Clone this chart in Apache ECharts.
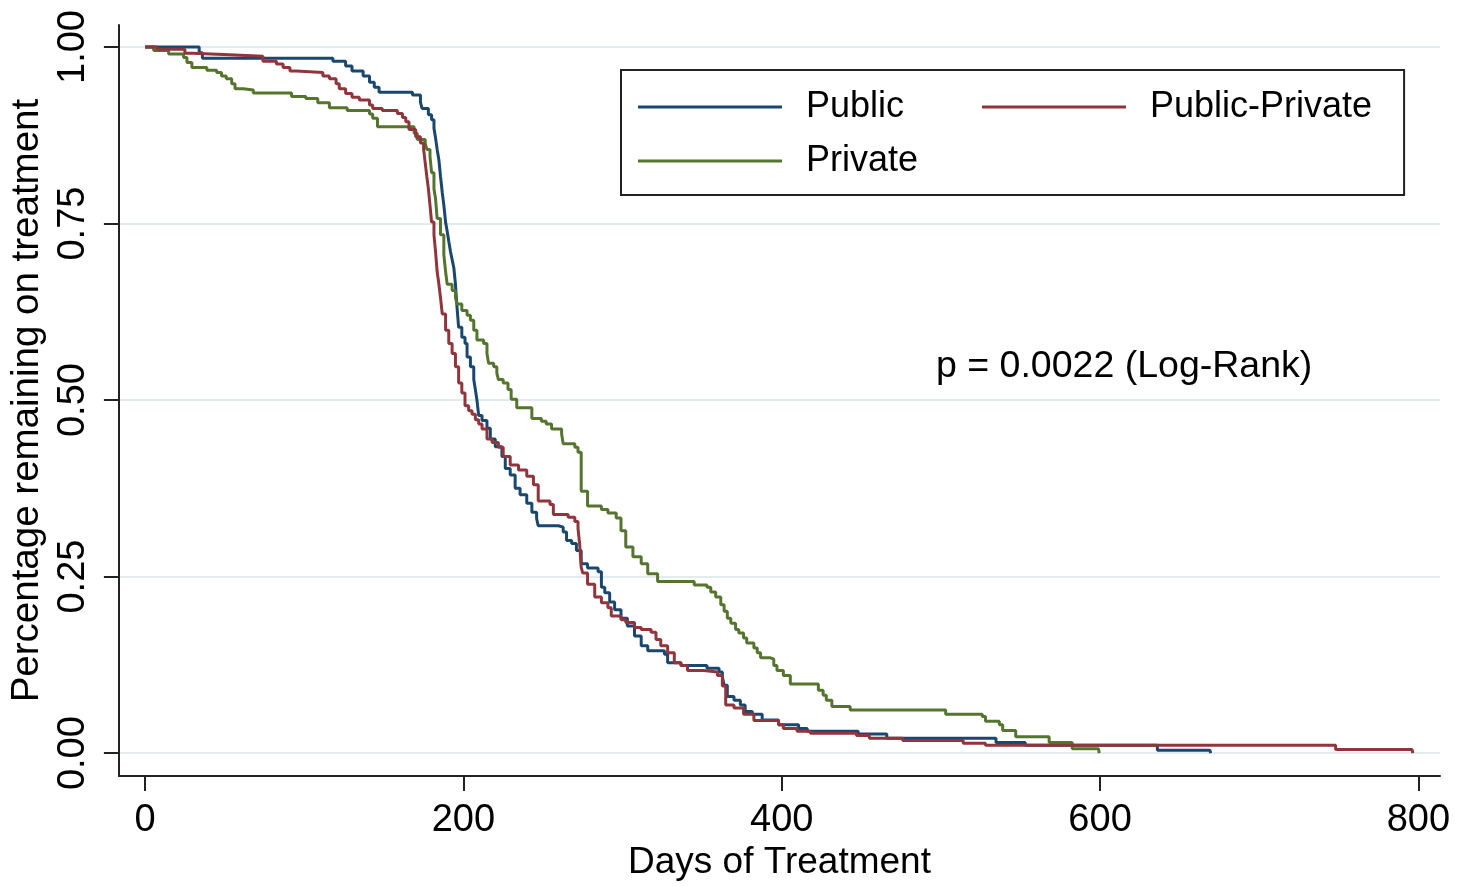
<!DOCTYPE html>
<html>
<head>
<meta charset="utf-8">
<script src="https://cdn.jsdelivr.net/npm/echarts@6/dist/echarts.min.js"></script>
<style>
html,body{margin:0;padding:0;background:#fff;width:100%;height:100%;overflow:hidden;}
#chart{width:100vw;height:100vh;}
</style>
</head>
<body>
<div id="chart"></div>
<script>
// ---- data (days of treatment, survival proportion), Kaplan-Meier step points ----
const seriesNames = ['Public', 'Public-Private', 'Private'];
const xTicks = [0, 200, 400, 600, 800];
const yTicks = [0, 0.25, 0.5, 0.75, 1];
const pText = 'p = 0.0022 (Log-Rank)';

const publicData = [[0,1.0],[34,0.992],[36,0.984],[118,0.980],[126,0.973],[130,0.966],[137,0.959],[141,0.950],[144,0.943],[147,0.936],[168,0.932],[173,0.922],[174,0.913],[178,0.904],[180,0.897],[181.5,0.885],[182.5,0.871],[183.5,0.855],[184.6,0.840],[185.6,0.817],[186.7,0.794],[187.7,0.776],[188.8,0.752],[189.8,0.739],[190.8,0.725],[191.9,0.710],[193,0.698],[194,0.687],[195,0.664],[196,0.631],[197,0.603],[199,0.589],[201,0.580],[202.3,0.561],[204.4,0.547],[206.5,0.529],[207.5,0.515],[208.5,0.500],[209.6,0.478],[211.7,0.471],[214.8,0.460],[216.9,0.445],[220,0.434],[224.2,0.420],[226.3,0.403],[229.4,0.394],[232.5,0.375],[235.6,0.366],[239.8,0.354],[243,0.341],[246,0.332],[247,0.322],[259.6,0.320],[262.7,0.313],[264.8,0.301],[268,0.297],[271,0.287],[274,0.268],[278,0.262],[284.6,0.257],[286.7,0.235],[288.8,0.227],[291.9,0.214],[295,0.203],[299,0.191],[303,0.180],[307.5,0.166],[311.7,0.152],[315.8,0.145],[326.3,0.140],[328.3,0.128],[336.7,0.124],[353,0.120],[360.6,0.115],[362.7,0.108],[363.8,0.096],[365.8,0.080],[370,0.075],[374,0.068],[377,0.059],[381.5,0.055],[387.7,0.047],[398,0.040],[410.6,0.035],[416,0.031],[448,0.027],[466,0.021],[534.6,0.015],[553,0.011],[636,0.004],[669,0.004],[669.5,0]];

const publicPrivateData = [[0,1.0],[7.5,0.997],[25,0.991],[30,0.989],[53,0.987],[74,0.980],[82.5,0.976],[86.7,0.971],[91,0.966],[95,0.964],[111.7,0.959],[115.8,0.955],[120,0.948],[122,0.941],[126,0.934],[130,0.929],[134.6,0.925],[141,0.918],[143,0.913],[149,0.910],[158.5,0.906],[161.7,0.900],[163.8,0.894],[165.8,0.883],[170,0.873],[173,0.864],[175,0.855],[176,0.836],[177,0.817],[178,0.799],[179,0.776],[180,0.752],[181.5,0.734],[182.5,0.710],[183.5,0.682],[184.6,0.664],[185.6,0.645],[186.7,0.622],[188.8,0.599],[190.8,0.580],[192.9,0.566],[195,0.547],[197,0.524],[199,0.510],[201,0.492],[203.3,0.485],[205.4,0.480],[207.5,0.472],[209.6,0.466],[211.7,0.459],[214.8,0.445],[218,0.440],[222,0.433],[225,0.420],[229.4,0.408],[234.6,0.401],[239.8,0.392],[244,0.380],[247,0.357],[254.4,0.352],[256.5,0.338],[265.8,0.334],[270,0.328],[272,0.318],[273,0.297],[274,0.263],[275,0.255],[278,0.239],[282.5,0.221],[286.7,0.213],[290.8,0.206],[292.9,0.194],[299,0.189],[302,0.185],[307.5,0.178],[311.7,0.175],[317.9,0.171],[321,0.161],[324,0.152],[328.3,0.142],[332.5,0.128],[336.7,0.124],[340.8,0.117],[351,0.115],[359.6,0.110],[362.7,0.095],[364.8,0.068],[370,0.064],[376,0.055],[382.5,0.046],[398,0.040],[401,0.035],[409.6,0.031],[418,0.028],[447,0.025],[455,0.021],[476,0.018],[514,0.014],[528,0.011],[748,0.005],[796,0.005],[796.5,0]];

const privateData = [[0,1.0],[5.4,0.995],[14.8,0.990],[24.2,0.985],[26.3,0.978],[29.4,0.971],[38.8,0.967],[45,0.964],[48,0.959],[51,0.955],[54.4,0.948],[56.5,0.941],[61.7,0.939],[68,0.935],[92,0.930],[101,0.927],[108.5,0.921],[115.8,0.914],[127,0.910],[141,0.905],[143,0.899],[146,0.887],[169,0.878],[171,0.869],[176,0.864],[177,0.855],[179,0.845],[180,0.822],[181.5,0.799],[182.5,0.785],[183.5,0.757],[185.6,0.734],[187.7,0.706],[188.8,0.682],[189.8,0.664],[192.9,0.655],[195,0.645],[196,0.636],[199,0.627],[202.3,0.620],[204.4,0.613],[206.5,0.599],[208.5,0.585],[212.7,0.580],[214.8,0.566],[215.8,0.552],[219,0.547],[221,0.538],[222,0.529],[225,0.524],[228,0.515],[230,0.501],[233.5,0.489],[243,0.474],[249,0.470],[252,0.466],[255.4,0.459],[261.7,0.452],[262.7,0.438],[270,0.433],[272,0.426],[274,0.371],[278,0.350],[286.7,0.345],[290.8,0.340],[296,0.333],[299,0.315],[302,0.292],[306.5,0.278],[311.7,0.268],[315.8,0.254],[322,0.243],[345,0.238],[353,0.235],[355.4,0.228],[358.5,0.221],[361.7,0.210],[363.8,0.201],[365.8,0.191],[368,0.184],[371,0.175],[373,0.170],[376,0.163],[378,0.156],[382.5,0.149],[384.6,0.142],[386.7,0.135],[392.9,0.133],[395,0.124],[397,0.117],[401,0.110],[405.4,0.098],[423,0.089],[426,0.082],[428,0.075],[431.5,0.066],[443,0.061],[503,0.055],[526,0.052],[528,0.045],[536.7,0.040],[538.8,0.032],[547,0.023],[568,0.015],[582.5,0.006],[599,0.006],[599.5,0]];

const colors = {'Public':'#1a476f','Public-Private':'#90353b','Private':'#55752f'};
const FONT = 'Liberation Sans, Arial, sans-serif';

const chart = echarts.init(document.getElementById('chart'), null, {renderer:'canvas'});

function curve(name, data, z){
  return {
    name: name, type:'line', step:'end', data:data, symbol:'none', showSymbol:false,
    z: z, animation:false,
    lineStyle:{color:colors[name], width:3},
    itemStyle:{color:colors[name]}
  };
}

const option = {
  animation:false,
  backgroundColor:'#fff',
  grid:{left:113, right:25, top:25, bottom:100, containLabel:false},
  xAxis:{
    type:'value', min:-16.45, max:813.57,
    name:'Days of Treatment', nameLocation:'middle', nameGap:59,
    nameTextStyle:{fontSize:37, fontFamily:FONT, color:'#000'},
    axisLine:{show:true, onZero:false, lineStyle:{color:'#222', width:2}},
    axisTick:{show:true, length:15, lineStyle:{color:'#222', width:2}, customValues:xTicks},
    axisLabel:{fontSize:38, fontFamily:FONT, color:'#000', margin:25, customValues:xTicks},
    splitLine:{show:false}
  },
  yAxis:{
    type:'value', min:-0.03257, max:1.03117,
    name:'Percentage remaining on treatment', nameLocation:'middle', nameGap:70, nameRotate:90,
    nameTextStyle:{fontSize:38.5, fontFamily:FONT, color:'#000'},
    axisLine:{show:true, onZero:false, lineStyle:{color:'#222', width:2}},
    axisTick:{show:true, length:15, lineStyle:{color:'#222', width:2}, customValues:yTicks},
    axisLabel:{fontSize:38, fontFamily:FONT, color:'#000', margin:26, rotate:90,
      customValues:yTicks, formatter:function(v){return v.toFixed(2);}},
    splitLine:{show:false}
  },
  legend:{
    left:621, top:70, width:790, orient:'horizontal',
    itemGap:18, itemWidth:144, itemHeight:3, icon:'rect',
    padding:[19,32,16,17],
    borderColor:'#222', borderWidth:2, backgroundColor:'#fff',
    textStyle:{fontSize:36, fontFamily:FONT, color:'#000', padding:[0,0,0,19], lineHeight:35},
    data:[{name:'Public', textStyle:{width:158}}, {name:'Public-Private'}, {name:'Private'}]
  },
  graphic:[{
    type:'text', left:936, top:348, z:10,
    style:{text:pText, font:'37.5px '+FONT, fill:'#000'}
  }],
  series:[
    {
      name:'grid', type:'line', data:[], z:0, silent:true,
      markLine:{
        silent:true, symbol:['none','none'], animation:false, z:0,
        label:{show:false},
        lineStyle:{color:'#e2ebf0', width:2, type:'solid'},
        data: yTicks.map(v => ({yAxis:v}))
      }
    },
    curve('Public', publicData, 3),
    curve('Private', privateData, 4),
    curve('Public-Private', publicPrivateData, 5)
  ]
};
chart.setOption(option);
window.addEventListener('resize', function(){ chart.resize(); });
</script>
</body>
</html>
